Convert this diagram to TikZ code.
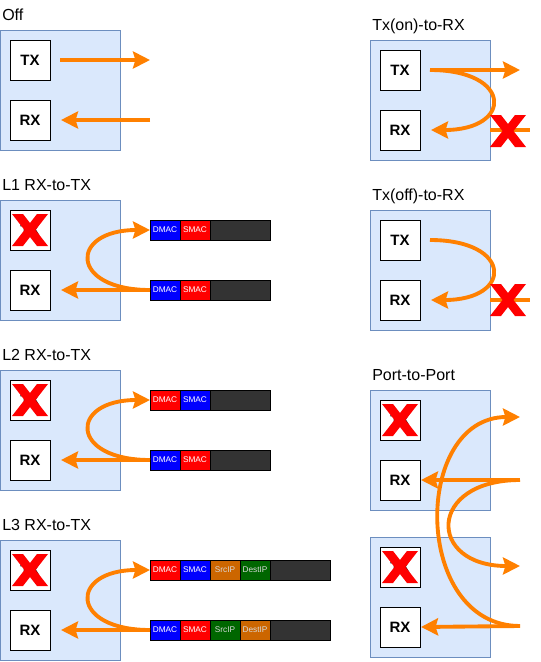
\documentclass[tikz,border=0pt]{standalone}
\usepackage{fontspec}
\setmainfont{Liberation Sans}
\usetikzlibrary{arrows.meta}
\definecolor{boxfill}{HTML}{DAE8FC}
\definecolor{boxdraw}{HTML}{6C8EBF}
\definecolor{flowc}{HTML}{FF8000}
\definecolor{cred}{HTML}{FF0000}
\definecolor{cblue}{HTML}{0000FF}
\definecolor{corange}{HTML}{CC6600}
\definecolor{cgreen}{HTML}{006600}
\definecolor{cdark}{HTML}{333333}
\begin{document}
\begin{tikzpicture}[x=0.75pt,y=-0.75pt,
 outer/.style={draw=boxdraw,fill=boxfill,line width=0.75pt,minimum width=90pt,minimum height=90pt,inner sep=0,outer sep=0,anchor=north west},
 port/.style={draw=black,fill=white,line width=0.75pt,minimum width=30pt,minimum height=30pt,inner sep=0,outer sep=0,anchor=north west,font=\bfseries\fontsize{11.25}{13}\selectfont},
 title/.style={anchor=base west,inner sep=0,font=\fontsize{12}{14}\selectfont},
 flow/.style={draw=flowc,line width=2.9pt,-{Stealth[length=12.75pt,width=12.75pt,inset=1.8pt]}},
 stub/.style={draw=flowc,line width=2.9pt},
 cell/.style={draw=black,line width=0.75pt,minimum width=22.5pt,minimum height=15pt,inner sep=0,outer sep=0,anchor=west,text=white,font=\fontsize{6.2}{7}\selectfont},
 ipcell/.style={cell,text=white!85!black},
 rest/.style={cell,fill=cdark,minimum width=45pt},
 redx/.pic={\fill[cred] (-18,-16) -- (-7,-16) -- (0,-7.04) -- (7,-16) -- (18,-16) -- (5.5,0) -- (18,16) -- (7,16) -- (0,7.04) -- (-7,16) -- (-18,16) -- (-5.5,0) -- cycle;}
]
\useasboundingbox (0,0) rectangle (541,662);

% ---------- Off ----------
\node[title] (tOff) at (2,20) {Off};
\node[outer] (bOff) at (0,30) {};
\node[port] (txOff) at (10,40) {TX};
\node[port] (rxOff) at (10,100) {RX};
\coordinate (oOut) at (150,60);
\coordinate (oIn) at (150,120);
\draw[flow] ([xshift=7.5pt]txOff.east) -- (oOut);
\draw[flow] (oIn) -- ([xshift=8.25pt]rxOff.east);

% ---------- L1 ----------
\node[title] (tL1) at (2,190) {L1 RX-to-TX};
\node[outer] (bL1) at (0,200) {};
\node[port] (txL1) at (10,210) {TX};
\node[port] (rxL1) at (10,270) {RX};
\node[cell,fill=cblue] (a1) at (150,230) {DMAC};
\node[cell,fill=cred] (a2) at (a1.east) {SMAC};
\node[rest] (a3) at (a2.east) {};
\node[cell,fill=cblue] (b1) at (150,290) {DMAC};
\node[cell,fill=cred] (b2) at (b1.east) {SMAC};
\node[rest] (b3) at (b2.east) {};
\draw[flow] (b1.west) -- ([xshift=8.25pt]rxL1.east);
\draw[flow] (b1.west) .. controls +(-81,0) and +(-81,0) .. (a1.west);
\pic at (30,230) {redx};

% ---------- L2 ----------
\node[title] (tL2) at (2,360) {L2 RX-to-TX};
\node[outer] (bL2) at (0,370) {};
\node[port] (txL2) at (10,380) {TX};
\node[port] (rxL2) at (10,440) {RX};
\node[cell,fill=cred] (c1) at (150,400) {DMAC};
\node[cell,fill=cblue] (c2) at (c1.east) {SMAC};
\node[rest] (c3) at (c2.east) {};
\node[cell,fill=cblue] (d1) at (150,460) {DMAC};
\node[cell,fill=cred] (d2) at (d1.east) {SMAC};
\node[rest] (d3) at (d2.east) {};
\draw[flow] (d1.west) -- ([xshift=8.25pt]rxL2.east);
\draw[flow] (d1.west) .. controls +(-81,0) and +(-81,0) .. (c1.west);
\pic at (30,400) {redx};

% ---------- L3 ----------
\node[title] (tL3) at (2,530) {L3 RX-to-TX};
\node[outer] (bL3) at (0,540) {};
\node[port] (txL3) at (10,550) {TX};
\node[port] (rxL3) at (10,610) {RX};
\node[cell,fill=cred] (e1) at (150,570) {DMAC};
\node[cell,fill=cblue] (e2) at (e1.east) {SMAC};
\node[ipcell,fill=corange] (e3) at (e2.east) {SrcIP};
\node[ipcell,fill=cgreen] (e4) at (e3.east) {DestIP};
\node[rest] (e5) at (e4.east) {};
\node[cell,fill=cblue] (f1) at (150,630) {DMAC};
\node[cell,fill=cred] (f2) at (f1.east) {SMAC};
\node[ipcell,fill=cgreen] (f3) at (f2.east) {SrcIP};
\node[ipcell,fill=corange] (f4) at (f3.east) {DestIP};
\node[rest] (f5) at (f4.east) {};
\draw[flow] (f1.west) -- ([xshift=8.25pt]rxL3.east);
\draw[flow] (f1.west) .. controls +(-81,0) and +(-81,0) .. (e1.west);
\pic at (30,570) {redx};

% ---------- Tx(on)-to-RX ----------
\node[title] (tOn) at (372,30) {Tx(on)-to-RX};
\node[outer] (bOn) at (370,40) {};
\node[port] (txOn) at (380,50) {TX};
\node[port] (rxOn) at (380,110) {RX};
\coordinate (onOut) at (520,70);
\draw[flow] ([xshift=7.5pt]txOn.east) -- (onOut);
\draw[flow] ([xshift=7.5pt]txOn.east) .. controls +(83,0) and +(82,0) .. ([xshift=8.25pt]rxOn.east);
\coordinate (onS1) at (490,130);
\coordinate (onS2) at (530,130);
\draw[stub] (onS1) -- (onS2);
\pic at (508,131) {redx};

% ---------- Tx(off)-to-RX ----------
\node[title] (tOffRx) at (372,200) {Tx(off)-to-RX};
\node[outer] (bOffRx) at (370,210) {};
\node[port] (txOffRx) at (380,220) {TX};
\node[port] (rxOffRx) at (380,280) {RX};
\draw[flow] ([xshift=7.5pt]txOffRx.east) .. controls +(83,0) and +(82,0) .. ([xshift=8.25pt]rxOffRx.east);
\coordinate (offS1) at (490,300);
\coordinate (offS2) at (530,300);
\draw[stub] (offS1) -- (offS2);
\pic at (508,300) {redx};

% ---------- Port-to-Port ----------
\node[title] (tPP) at (372,380) {Port-to-Port};
\node[outer] (bP1) at (370,390) {};
\node[port] (txP1) at (380,400) {TX};
\node[port] (rxP1) at (380,460) {RX};
\node[outer] (bP2) at (370,537) {};
\node[port] (txP2) at (380,547) {TX};
\node[port] (rxP2) at (380,607) {RX};
\coordinate (q1) at (520,480);
\coordinate (q2) at (520,626);
\coordinate (t1) at (520,417);
\coordinate (t2) at (520,566);
\draw[flow] (q2) .. controls +(-108,0) and +(-108,0) .. (t1);
\draw[flow] (q1) .. controls +(-93,0) and +(-93,0) .. (t2);
\draw[flow] (q1) -- ([xshift=0.75pt]rxP1.east);
\draw[flow] (q2) -- ([xshift=0.75pt]rxP2.east);
\pic at (400,420) {redx};
\pic at (400,567) {redx};
\end{tikzpicture}
\end{document}
